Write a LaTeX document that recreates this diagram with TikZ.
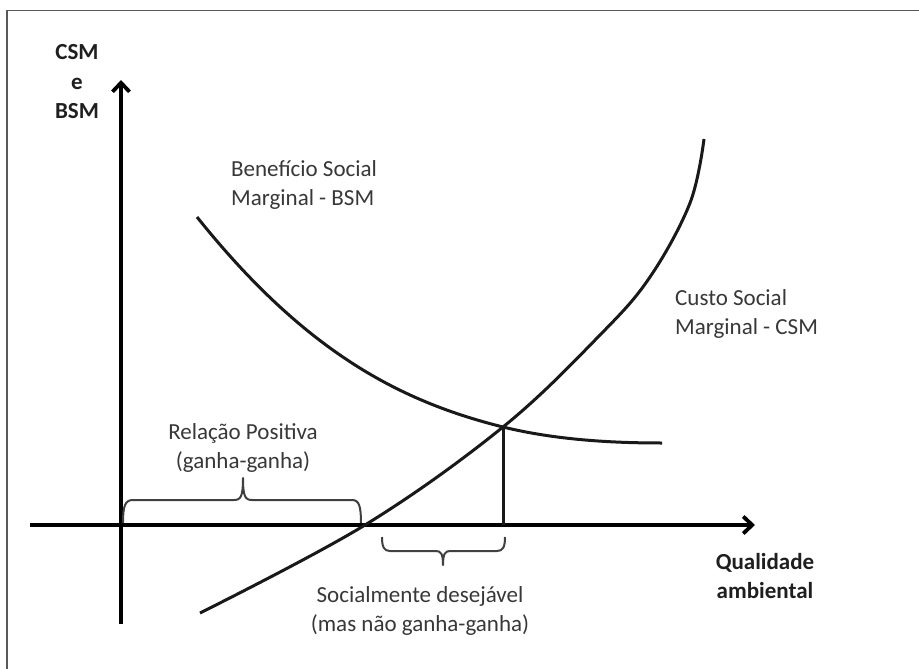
\documentclass[tikz,border=0pt]{standalone}
\usepackage{fontspec}
\setmainfont{Carlito}
\usetikzlibrary{arrows.meta}
\begin{document}
\begin{tikzpicture}[x=1pt,y=-1pt,
  axis/.style={line width=3.8pt, black, -{Straight Barb[length=9pt,width=17pt]}},
  curve/.style={line width=3pt, black!90},
  bracket/.style={line width=2pt, black!75, line join=round},
  lbl/.style={inner sep=0pt, text=black!78, font=\fontsize{23}{29}\selectfont, align=center},
  axlbl/.style={inner sep=0pt, text=black!88, font=\fontsize{23}{29.5}\selectfont\bfseries, align=center},
  frame/.style={line width=1.5pt, black!65}
]
\useasboundingbox (0,0) rectangle (919,669);
\fill[white] (0,0) rectangle (919,669);
% frame
\coordinate (fbl) at (7,669);
\coordinate (ftl) at (7,10.5);
\coordinate (ftr) at (919,10.5);
\draw[frame] (fbl) -- (ftl) -- (ftr);
% axes
\coordinate (ybot) at (121,624);
\coordinate (ytop) at (121,80);
\coordinate (xl) at (30,525);
\coordinate (xr) at (755,525);
\draw[axis] (ybot) -- (ytop);
\draw[axis] (xl) -- (xr);
% equilibrium
\coordinate (E) at (503,427);
\coordinate (Eb) at (503,525);
% BSM curve
\coordinate (bsmS) at (197,217);
\coordinate (bsmE) at (662,443);
\draw[curve] (bsmS) .. controls (307,354.5) and (403,402) .. (E)
  .. controls (560,441) and (620,443) .. (bsmE);
% CSM curve
\draw[curve] plot[smooth, tension=0.6] coordinates {(200,613) (365,525) (E) (600,335) (650,277) (690,203) (704,139)};
\draw[curve] (E) -- (Eb);
% braces
\draw[bracket] (123,523) .. controls (123,506) and (125,500) .. (133,500) -- (234,500)
  .. controls (241,500) and (243,496) .. (243,478)
  .. controls (243,496) and (245,500) .. (252,500) -- (352,500)
  .. controls (359,500) and (361,506) .. (361,523);
\draw[bracket] (382,537) .. controls (382,547) and (384,551) .. (390,551) -- (436,551)
  .. controls (441,551) and (443,554) .. (443,565)
  .. controls (443,554) and (445,551) .. (450,551) -- (497,551)
  .. controls (503,551) and (505,547) .. (505,537);
% labels
\node[axlbl] (ylab) at (77,82) {CSM\\e\\BSM};
\node[lbl, align=left, anchor=west] (bsm) at (231,185) {Benefício Social\\Marginal - BSM};
\node[lbl, align=left, anchor=west] (csm) at (675,314) {Custo Social\\Marginal - CSM};
\node[lbl] (rel) at (243,448) {Relação Positiva\\(ganha-ganha)};
\node[lbl] (soc) at (420,611) {Socialmente desejável\\(mas não ganha-ganha)};
\node[axlbl] (xlab) at (765,576) {Qualidade\\ambiental};
\end{tikzpicture}
\end{document}
